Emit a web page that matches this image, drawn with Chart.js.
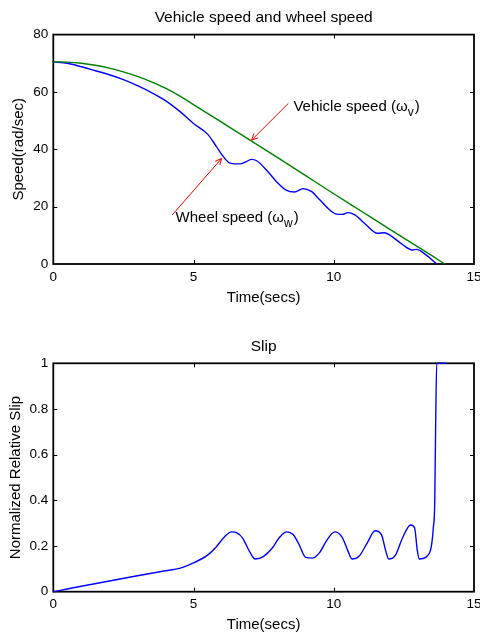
<!DOCTYPE html>
<html>
<head>
<meta charset="utf-8">
<title>Vehicle speed and wheel speed / Slip</title>
<script src="https://cdn.jsdelivr.net/npm/chart.js@4.4.0/dist/chart.umd.min.js"></script>
<style>
  html, body { margin: 0; padding: 0; background: #fff; }
  .panel { position: absolute; left: 0; width: 480px; height: 317px; }
  .panel canvas { display: block; }
  #top-panel { top: 0; }
  #bottom-panel { top: 317px; }
</style>
</head>
<body>
<div class="panel" id="top-panel"><canvas id="speedChart" width="480" height="317"></canvas></div>
<div class="panel" id="bottom-panel"><canvas id="slipChart" width="480" height="317"></canvas></div>
<script>
// Values

// vehicle speed (green)
const vehicleTime  = [0, 0.5, 1, 1.5, 2, 2.5, 3, 3.5, 4, 4.5, 5, 6, 7, 8, 9, 10, 11, 12, 13, 13.5, 13.96];
const vehicleSpeed = [70.5, 70.4, 70.0, 69.3, 68.3, 67.0, 65.4, 63.5, 61.3, 58.6, 55.6, 49.45, 43.3, 37.1, 30.8, 24.5, 18.3, 12.1, 6.0, 2.9, 0];

// wheel speed (blue)
const wheelTime  = [0, 0.5, 1, 1.5, 2, 2.5, 3, 3.5, 4, 4.5, 5, 5.5, 5.8, 6.05, 6.3, 6.65, 6.9, 7.07, 7.25, 7.6, 7.95, 8.3, 8.6, 8.9, 9.2, 9.5, 9.85, 10.1, 10.3, 10.5, 10.75, 11.15, 11.55, 11.8, 12.0, 12.45, 12.8, 12.95, 13.3, 13.67];
const wheelSpeed = [70.5, 70.0, 68.8, 67.4, 66.0, 64.3, 62.2, 59.8, 57.0, 53.3, 49.0, 45.3, 41.2, 37.6, 35.2, 34.9, 35.8, 36.5, 36.0, 32.8, 28.8, 25.8, 25.1, 26.3, 25.3, 22.4, 18.9, 17.4, 17.3, 17.9, 17.1, 13.7, 10.7, 10.9, 10.1, 6.8, 4.9, 5.1, 3.1, 0];

// normalized relative slip
const slipTime  = [0, 0.5, 1, 2, 3, 4, 4.5, 5, 5.5, 5.8, 6.1, 6.36, 6.55, 6.75, 7.0, 7.2, 7.5, 7.8, 8.05, 8.32, 8.55, 8.75, 9.0, 9.25, 9.5, 9.75, 10.04, 10.3, 10.5, 10.65, 10.9, 11.2, 11.47, 11.7, 11.85, 11.96, 12.2, 12.45, 12.74, 12.88, 12.98, 13.05, 13.33, 13.48, 13.55, 13.6, 13.63, 13.67, 14.0];
const slipValue = [0, 0.012, 0.024, 0.047, 0.07, 0.092, 0.102, 0.126, 0.16, 0.195, 0.24, 0.262, 0.258, 0.235, 0.175, 0.143, 0.155, 0.19, 0.235, 0.262, 0.25, 0.21, 0.15, 0.147, 0.172, 0.225, 0.262, 0.238, 0.18, 0.143, 0.155, 0.215, 0.267, 0.25, 0.18, 0.143, 0.16, 0.235, 0.292, 0.28, 0.18, 0.143, 0.156, 0.2, 0.28, 0.39, 0.7, 1.0, 1.0];

// annotation text and arrows (data units)
const noteText  = ['Vehicle speed (\u03c9', 'Wheel speed (\u03c9'];
const noteSub   = ['v', 'w'];
const noteAt    = [[8.56, 53.4], [4.36, 14.5]];
const arrowFrom = [[8.38, 56.0], [4.24, 17.1]];
const arrowTo   = [[7.07, 43.2], [6.0, 36.8]];

const FONT = "'Liberation Sans', Arial, Helvetica, sans-serif";

function toPoints(xs, ys) {
    return xs.map((t, i) => ({ x: t, y: ys[i] }));
}

// Box around the axes with inward tick marks on all four sides (MATLAB look)
const matlabBox = {
    id: 'matlabBox',
    beforeDatasetsDraw(chart) {
        const { ctx, chartArea: a, scales: { x, y } } = chart;
        const len = 4;
        ctx.save();
        ctx.strokeStyle = '#000';
        ctx.lineWidth = 1;
        ctx.beginPath();
        x.ticks.forEach(t => {
            const px = Math.round(x.getPixelForValue(t.value)) + 0.5;
            if (px <= a.left + 2 || px >= a.right - 2) return;
            ctx.moveTo(px, a.bottom); ctx.lineTo(px, a.bottom - len);
            ctx.moveTo(px, a.top); ctx.lineTo(px, a.top + len);
        });
        y.ticks.forEach(t => {
            const py = Math.round(y.getPixelForValue(t.value)) + 0.5;
            if (py <= a.top + 2 || py >= a.bottom - 2) return;
            ctx.moveTo(a.left, py); ctx.lineTo(a.left + len, py);
            ctx.moveTo(a.right, py); ctx.lineTo(a.right - len, py);
        });
        ctx.stroke();
        ctx.lineWidth = 1.8;
        ctx.strokeRect(a.left, a.top, a.right - a.left, a.bottom - a.top);
        ctx.restore();
    }
};

// Red arrows and the two labels in the speed plot
const speedNotes = {
    id: 'speedNotes',
    afterDraw(chart) {
        const { ctx, scales: { x, y } } = chart;
        ctx.save();
        ctx.strokeStyle = '#ff0000';
        ctx.lineWidth = 1;
        arrowFrom.forEach((p, i) => {
            const x0 = x.getPixelForValue(p[0]), y0 = y.getPixelForValue(p[1]);
            const x1 = x.getPixelForValue(arrowTo[i][0]), y1 = y.getPixelForValue(arrowTo[i][1]);
            const ang = Math.atan2(y1 - y0, x1 - x0);
            ctx.beginPath();
            ctx.moveTo(x0, y0);
            ctx.lineTo(x1, y1);
            [-0.45, 0.45].forEach(d => {
                ctx.moveTo(x1, y1);
                ctx.lineTo(x1 - 7 * Math.cos(ang + d), y1 - 7 * Math.sin(ang + d));
            });
            ctx.stroke();
        });

        ctx.fillStyle = '#000';
        ctx.textBaseline = 'alphabetic';
        ctx.textAlign = 'left';
        noteText.forEach((txt, i) => {
            let px = x.getPixelForValue(noteAt[i][0]);
            const py = y.getPixelForValue(noteAt[i][1]);
            ctx.font = `15px ${FONT}`;
            ctx.fillText(txt, px, py);
            px += ctx.measureText(txt).width;
            ctx.font = `12px ${FONT}`;
            ctx.fillText(noteSub[i], px, py + 5);
            px += ctx.measureText(noteSub[i]).width + 1;
            ctx.font = `15px ${FONT}`;
            ctx.fillText(')', px, py);
        });
        ctx.restore();
    }
};

function axisOptions(opts) {
    return {
        type: 'linear',
        min: opts.min,
        max: opts.max,
        grid: { display: false, drawTicks: false },
        border: { display: false },
        ticks: {
            stepSize: opts.step,
            color: '#000',
            padding: opts.tickPad,
            font: { family: FONT, size: 13.5 },
            autoSkip: false,
            maxRotation: 0,
            // MATLAB style: 0, 0.2, ... 1 (no trailing zeros)
            callback: v => String(+Number(v).toFixed(2))
        },
        title: {
            display: true,
            text: opts.title,
            color: '#000',
            font: { family: FONT, size: 15 },
            padding: opts.titlePad
        },
        afterFit: opts.afterFit
    };
}

function lineSet(points, color) {
    return {
        data: points,
        borderColor: color,
        borderWidth: 1.4,
        pointRadius: 0,
        fill: false,
        clip: 3,
        cubicInterpolationMode: 'monotone'
    };
}

// ---- top: vehicle and wheel speed ----
new Chart(document.getElementById('speedChart'), {
    type: 'line',
    data: {
        datasets: [
            lineSet(toPoints(vehicleTime, vehicleSpeed), '#008000'),
            lineSet(toPoints(wheelTime, wheelSpeed), '#0000ff')
        ]
    },
    options: {
        responsive: false,
        animation: false,
        layout: { padding: { left: 0, right: 6, top: 0, bottom: 0 } },
        plugins: {
            legend: { display: false },
            tooltip: { enabled: false },
            title: {
                display: true,
                text: 'Vehicle speed and wheel speed',
                color: '#000',
                fullSize: false,
                font: { family: FONT, size: 15.5, weight: 'normal' },
                padding: { top: 8, bottom: 8 }
            }
        },
        scales: {
            x: axisOptions({
                min: 0, max: 15, step: 5, tickPad: 5.5, title: 'Time(secs)',
                titlePad: { top: 0, bottom: 10.5 },
                afterFit(s) { s.height = 53; s.paddingLeft = 0; s.paddingRight = 0; }
            }),
            y: axisOptions({
                min: 0, max: 80, step: 20, tickPad: 5, title: 'Speed(rad/sec)',
                titlePad: { top: 10, bottom: 0 },
                afterFit(s) { s.width = 53.3; }
            })
        }
    },
    plugins: [matlabBox, speedNotes]
});

// ---- bottom: slip ----
new Chart(document.getElementById('slipChart'), {
    type: 'line',
    data: {
        datasets: [lineSet(toPoints(slipTime, slipValue), '#0000ff')]
    },
    options: {
        responsive: false,
        animation: false,
        layout: { padding: { left: 0, right: 6, top: 0, bottom: 0 } },
        plugins: {
            legend: { display: false },
            tooltip: { enabled: false },
            title: {
                display: true,
                text: 'Slip',
                color: '#000',
                fullSize: false,
                font: { family: FONT, size: 15.5, weight: 'normal' },
                padding: { top: 20.7, bottom: 7 }
            }
        },
        scales: {
            x: axisOptions({
                min: 0, max: 15, step: 5, tickPad: 4.5, title: 'Time(secs)',
                titlePad: { top: 0, bottom: 0 },
                afterFit(s) { s.height = 42.3; s.paddingLeft = 0; s.paddingRight = 0; }
            }),
            y: axisOptions({
                min: 0, max: 1, step: 0.2, tickPad: 5, title: 'Normalized Relative Slip',
                titlePad: { top: 6.5, bottom: 0 },
                afterFit(s) { s.width = 53.3; }
            })
        }
    },
    plugins: [matlabBox]
});
</script>
</body>
</html>
